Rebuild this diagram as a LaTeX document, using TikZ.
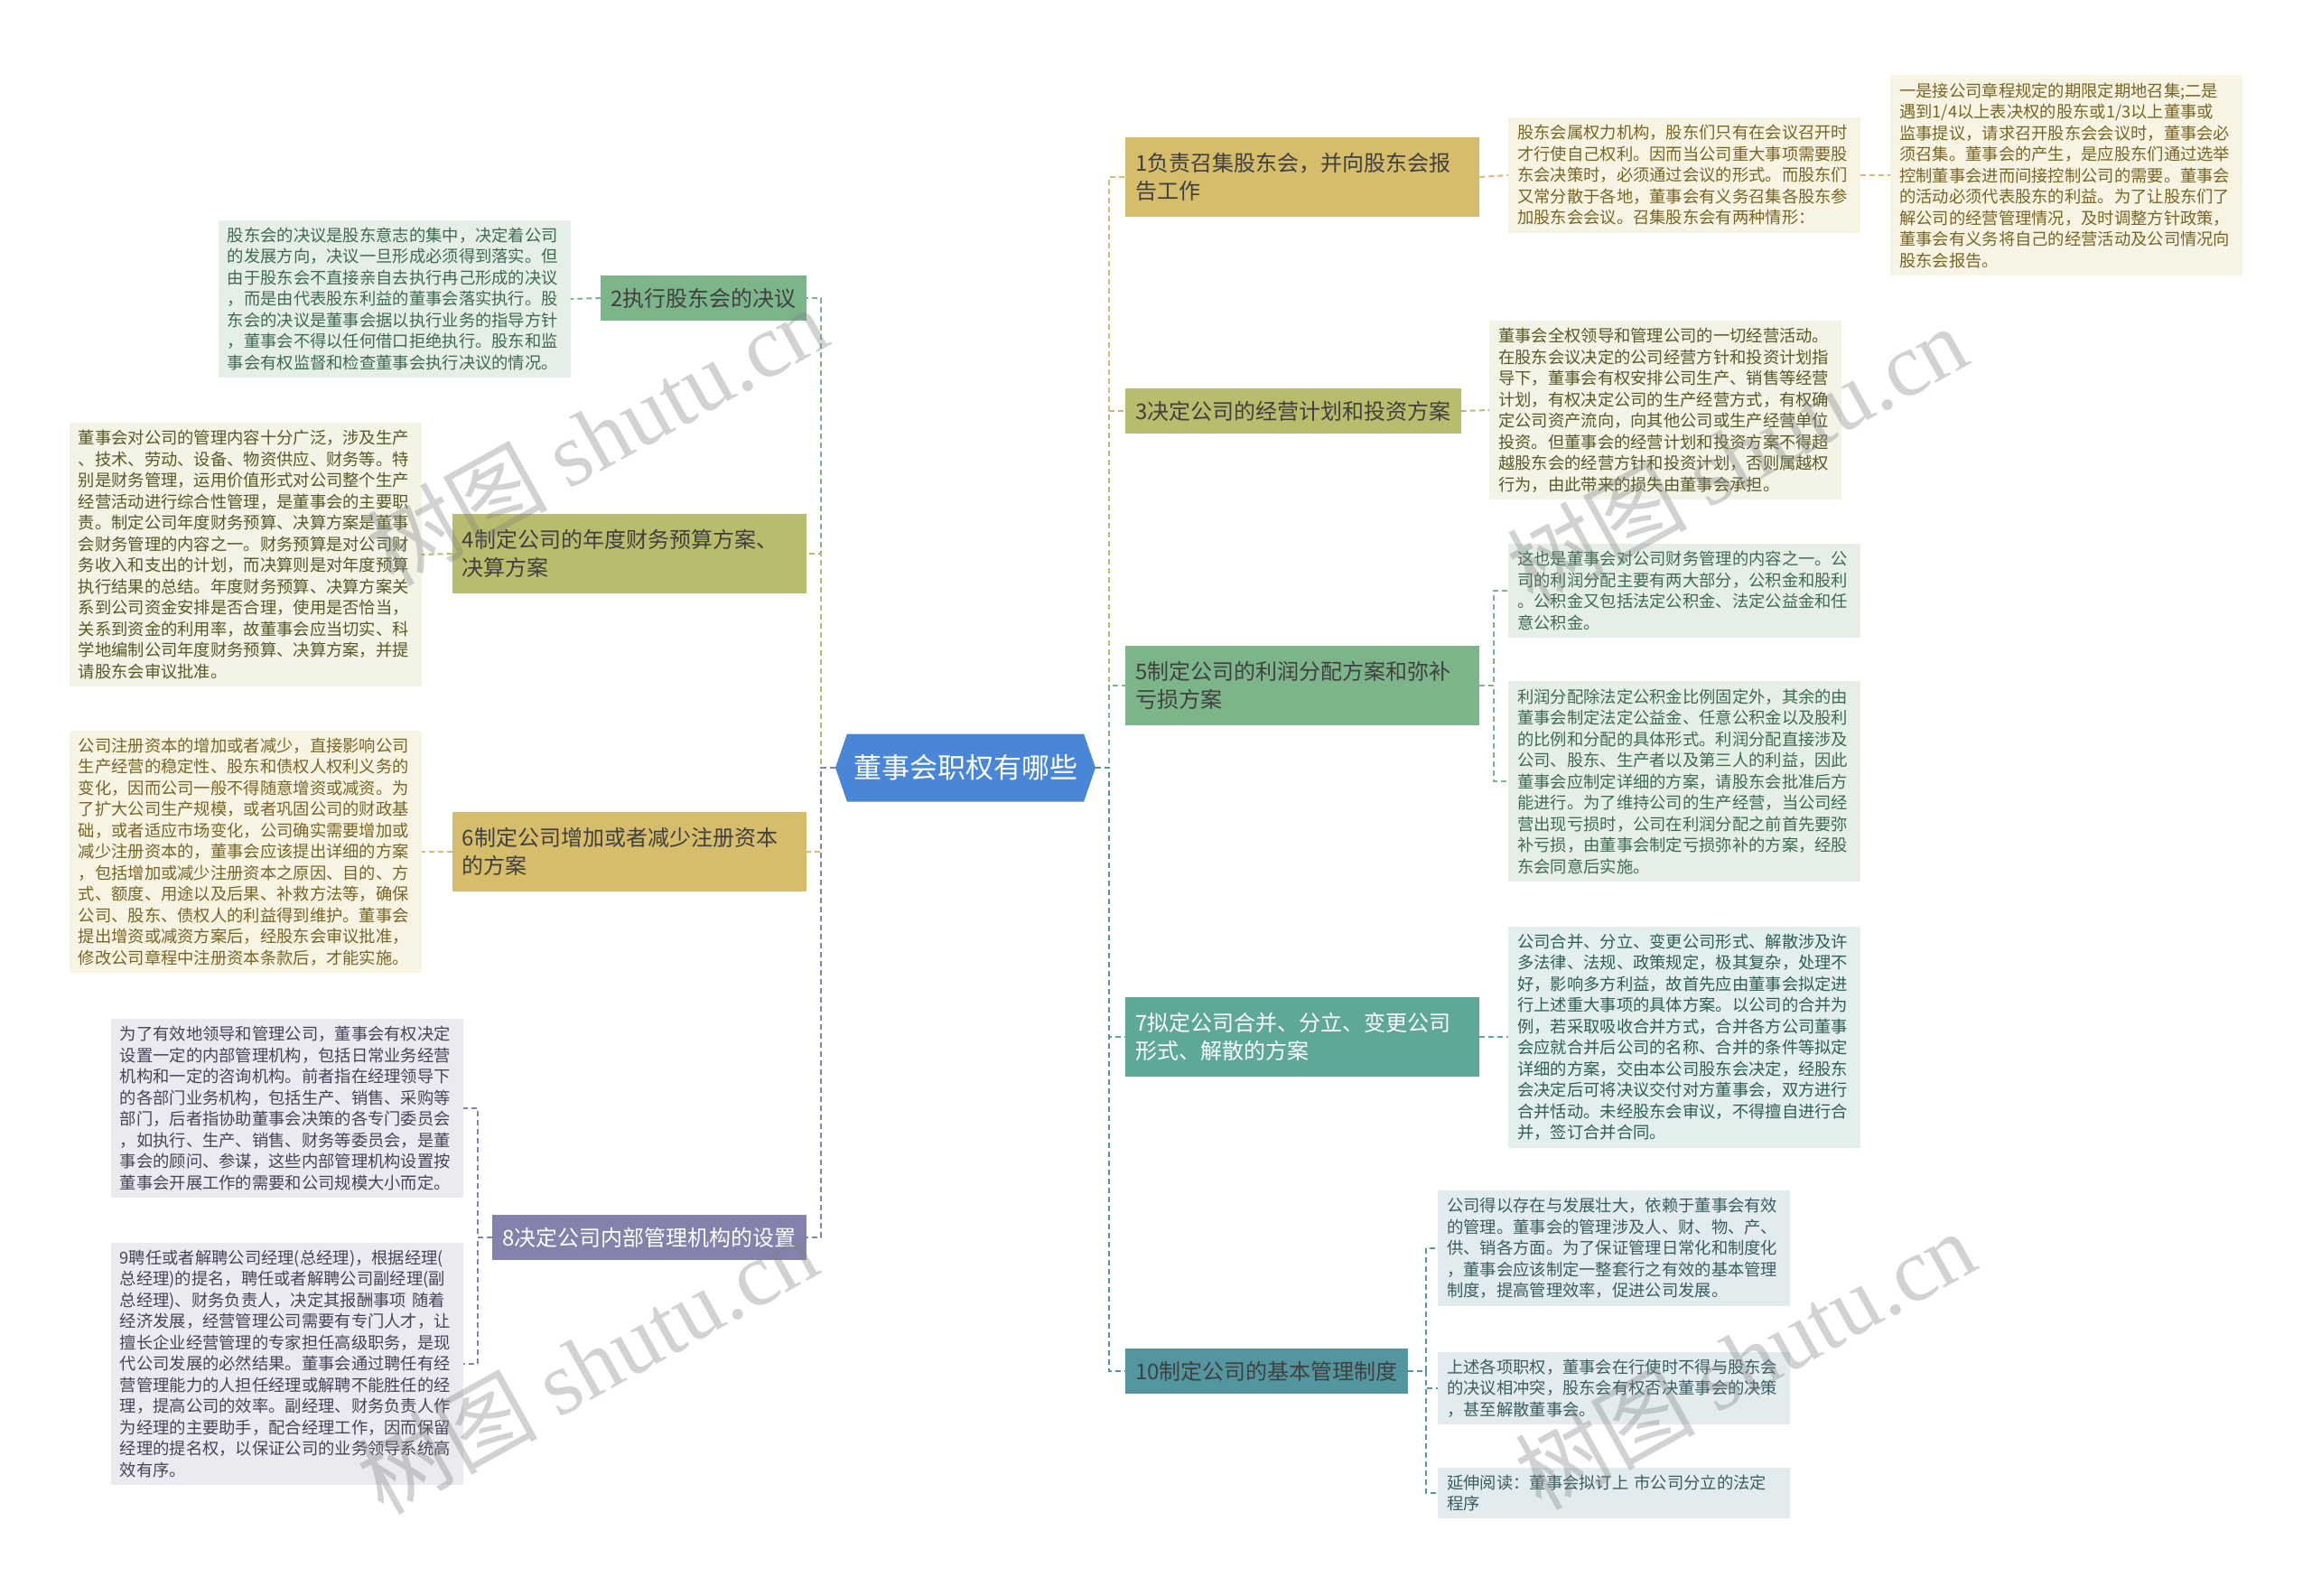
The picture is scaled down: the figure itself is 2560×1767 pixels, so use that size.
\documentclass[tikz,border=0pt]{standalone}
\usepackage{fontspec}
\setmainfont{Noto Sans CJK SC}
\newfontfamily\wmfont{Liberation Serif}
\usetikzlibrary{shapes.symbols}
\definecolor{cgold}{HTML}{D6BD6B}
\definecolor{colive}{HTML}{B8BC6C}
\definecolor{cgreen}{HTML}{7CB58A}
\definecolor{cteal}{HTML}{5EA89A}
\definecolor{ctealb}{HTML}{5496A0}
\definecolor{cpurple}{HTML}{8282AC}
\definecolor{cblue}{HTML}{4A86D8}
\definecolor{fgold}{HTML}{F7F4E3}
\definecolor{folive}{HTML}{F3F3E6}
\definecolor{fgreen}{HTML}{E5EFE7}
\definecolor{fteal}{HTML}{E3EFEC}
\definecolor{ftealb}{HTML}{E2ECEE}
\definecolor{fpurple}{HTML}{EAEAF0}
\definecolor{tgold}{HTML}{7A6424}
\definecolor{tolive}{HTML}{555A26}
\definecolor{tgreen}{HTML}{3E6B4C}
\definecolor{tteal}{HTML}{2F5E56}
\definecolor{ttealb}{HTML}{3A5C63}
\definecolor{tpurple}{HTML}{45455A}
\begin{document}
\begin{tikzpicture}[x=1pt,y=-1pt,
  link/.style={draw=#1, line width=2pt, dash pattern=on 6pt off 4pt},
  branch/.style={fill=#1, inner xsep=11pt, inner ysep=6pt, minimum height=50pt, align=left, font=\fontsize{24}{31}\selectfont},
  leaf/.style={fill=#1, inner xsep=10pt, inner ysep=8pt, text width=370pt, align=left, font=\fontsize{18.3}{23.5}\selectfont},
  wmark/.style={rotate=29, text=gray, text opacity=0.35, font=\fontsize{100}{100}\selectfont}]
\useasboundingbox (0,0) rectangle (2560,1767);
\fill[white] (0,0) rectangle (2560,1767);

\node[signal, signal to=west and east, signal pointer angle=142, fill=cblue, text=white, minimum width=288pt, minimum height=75pt, font=\fontsize{31}{31}\selectfont] (root) at (1069,850) {董事会职权有哪些};
\coordinate (lspine) at (909,850);
\coordinate (rspine) at (1228,850);

\node[branch=cgold, text width=370pt, minimum height=88pt, anchor=west, text=black!75] (b1) at (1246,196) {1负责召集股东会，并向股东会报\\告工作};
\node[branch=colive, anchor=west, text=black!75] (b3) at (1246,455) {3决定公司的经营计划和投资方案};
\node[branch=cgreen, text width=370pt, minimum height=88pt, anchor=west, text=black!75] (b5) at (1246,759) {5制定公司的利润分配方案和弥补\\亏损方案};
\node[branch=cteal, text width=370pt, minimum height=88pt, anchor=west, text=white] (b7) at (1246,1148) {7拟定公司合并、分立、变更公司\\形式、解散的方案};
\node[branch=ctealb, anchor=west, text=black!75] (b10) at (1246,1518) {10制定公司的基本管理制度};
\node[branch=cgreen, anchor=east, text=black!75] (b2) at (893,330) {2执行股东会的决议};
\node[branch=colive, text width=370pt, minimum height=88pt, anchor=east, text=black!75] (b4) at (893,613) {4制定公司的年度财务预算方案、\\决算方案};
\node[branch=cgold, text width=370pt, minimum height=88pt, anchor=east, text=black!75] (b6) at (893,943) {6制定公司增加或者减少注册资本\\的方案};
\node[branch=cpurple, anchor=east, text=white] (b8) at (893,1370) {8决定公司内部管理机构的设置};

\node[leaf=fgold, anchor=west, text=tgold] (l1a) at (1670,194) {股东会属权力机构，股东们只有在会议召开时\\才行使自己权利。因而当公司重大事项需要股\\东会决策时，必须通过会议的形式。而股东们\\又常分散于各地，董事会有义务召集各股东参\\加股东会会议。召集股东会有两种情形：};
\node[leaf=fgold, anchor=west, text=tgold] (l1b) at (2093,194) {一是接公司章程规定的期限定期地召集;二是\\遇到1/4以上表决权的股东或1/3以上董事或\\监事提议，请求召开股东会会议时，董事会必\\须召集。董事会的产生，是应股东们通过选举\\控制董事会进而间接控制公司的需要。董事会\\的活动必须代表股东的利益。为了让股东们了\\解公司的经营管理情况，及时调整方针政策，\\董事会有义务将自己的经营活动及公司情况向\\股东会报告。};
\node[leaf=folive, anchor=west, text=tolive] (l3) at (1649,454) {董事会全权领导和管理公司的一切经营活动。\\在股东会议决定的公司经营方针和投资计划指\\导下，董事会有权安排公司生产、销售等经营\\计划，有权决定公司的生产经营方式，有权确\\定公司资产流向，向其他公司或生产经营单位\\投资。但董事会的经营计划和投资方案不得超\\越股东会的经营方针和投资计划，否则属越权\\行为，由此带来的损失由董事会承担。};
\node[leaf=fgreen, anchor=west, text=tgreen] (l5a) at (1670,654) {这也是董事会对公司财务管理的内容之一。公\\司的利润分配主要有两大部分，公积金和股利\\。公积金又包括法定公积金、法定公益金和任\\意公积金。};
\node[leaf=fgreen, anchor=west, text=tgreen] (l5b) at (1670,865) {利润分配除法定公积金比例固定外，其余的由\\董事会制定法定公益金、任意公积金以及股利\\的比例和分配的具体形式。利润分配直接涉及\\公司、股东、生产者以及第三人的利益，因此\\董事会应制定详细的方案，请股东会批准后方\\能进行。为了维持公司的生产经营，当公司经\\营出现亏损时，公司在利润分配之前首先要弥\\补亏损，由董事会制定亏损弥补的方案，经股\\东会同意后实施。};
\node[leaf=fteal, anchor=west, text=tteal] (l7) at (1670,1148) {公司合并、分立、变更公司形式、解散涉及许\\多法律、法规、政策规定，极其复杂，处理不\\好，影响多方利益，故首先应由董事会拟定进\\行上述重大事项的具体方案。以公司的合并为\\例，若采取吸收合并方式，合并各方公司董事\\会应就合并后公司的名称、合并的条件等拟定\\详细的方案，交由本公司股东会决定，经股东\\会决定后可将决议交付对方董事会，双方进行\\合并恬动。未经股东会审议，不得擅自进行合\\并，签订合并合同。};
\node[leaf=ftealb, anchor=west, text=ttealb] (l10a) at (1592,1382) {公司得以存在与发展壮大，依赖于董事会有效\\的管理。董事会的管理涉及人、财、物、产、\\供、销各方面。为了保证管理日常化和制度化\\，董事会应该制定一整套行之有效的基本管理\\制度，提高管理效率，促进公司发展。};
\node[leaf=ftealb, anchor=west, text=ttealb] (l10b) at (1592,1537) {上述各项职权，董事会在行使时不得与股东会\\的决议相冲突，股东会有权否决董事会的决策\\，甚至解散董事会。};
\node[leaf=ftealb, anchor=west, text=ttealb] (l10c) at (1592,1653) {延伸阅读：董事会拟订上 市公司分立的法定\\程序};

\node[leaf=fgreen, anchor=east, text=tgreen] (l2) at (632,331) {股东会的决议是股东意志的集中，决定着公司\\的发展方向，决议一旦形成必须得到落实。但\\由于股东会不直接亲自去执行冉己形成的决议\\，而是由代表股东利益的董事会落实执行。股\\东会的决议是董事会据以执行业务的指导方针\\，董事会不得以任何借口拒绝执行。股东和监\\事会有权监督和检查董事会执行决议的情况。};
\node[leaf=folive, anchor=east, text=tolive] (l4) at (467,614) {董事会对公司的管理内容十分广泛，涉及生产\\、技术、劳动、设备、物资供应、财务等。特\\别是财务管理，运用价值形式对公司整个生产\\经营活动进行综合性管理，是董事会的主要职\\责。制定公司年度财务预算、决算方案是董事\\会财务管理的内容之一。财务预算是对公司财\\务收入和支出的计划，而决算则是对年度预算\\执行结果的总结。年度财务预算、决算方案关\\系到公司资金安排是否合理，使用是否恰当，\\关系到资金的利用率，故董事会应当切实、科\\学地编制公司年度财务预算、决算方案，并提\\请股东会审议批准。};
\node[leaf=fgold, anchor=east, text=tgold] (l6) at (467,943) {公司注册资本的增加或者减少，直接影响公司\\生产经营的稳定性、股东和债权人权利义务的\\变化，因而公司一般不得随意增资或减资。为\\了扩大公司生产规模，或者巩固公司的财政基\\础，或者适应市场变化，公司确实需要增加或\\减少注册资本的，董事会应该提出详细的方案\\，包括增加或减少注册资本之原因、目的、方\\式、额度、用途以及后果、补救方法等，确保\\公司、股东、债权人的利益得到维护。董事会\\提出增资或减资方案后，经股东会审议批准，\\修改公司章程中注册资本条款后，才能实施。};
\node[leaf=fpurple, anchor=east, text=tpurple] (l8a) at (513,1227) {为了有效地领导和管理公司，董事会有权决定\\设置一定的内部管理机构，包括日常业务经营\\机构和一定的咨询机构。前者指在经理领导下\\的各部门业务机构，包括生产、销售、采购等\\部门，后者指协助董事会决策的各专门委员会\\，如执行、生产、销售、财务等委员会，是董\\事会的顾问、参谋，这些内部管理机构设置按\\董事会开展工作的需要和公司规模大小而定。};
\node[leaf=fpurple, anchor=east, text=tpurple] (l8b) at (513,1510) {9聘任或者解聘公司经理(总经理)，根据经理(\\总经理)的提名，聘任或者解聘公司副经理(副\\总经理)、财务负责人，决定其报酬事项 随着\\经济发展，经营管理公司需要有专门人才，让\\擅长企业经营管理的专家担任高级职务，是现\\代公司发展的必然结果。董事会通过聘任有经\\营管理能力的人担任经理或解聘不能胜任的经\\理，提高公司的效率。副经理、财务负责人作\\为经理的主要助手，配合经理工作，因而保留\\经理的提名权，以保证公司的业务领导系统高\\效有序。};

\draw[link=cgreen] (root.west) -- (lspine) |- (b2.east);
\draw[link=colive] (root.west) -- (lspine) |- (b4.east);
\draw[link=cgold] (root.west) -- (lspine) |- (b6.east);
\draw[link=cpurple] (root.west) -- (lspine) |- (b8.east);
\draw[link=cgold] (root.east) -- (rspine) |- (b1.west);
\draw[link=colive] (root.east) -- (rspine) |- (b3.west);
\draw[link=cgreen] (root.east) -- (rspine) |- (b5.west);
\draw[link=cteal] (root.east) -- (rspine) |- (b7.west);
\draw[link=ctealb] (root.east) -- (rspine) |- (b10.west);

\draw[link=cgold] (b1.east) -- (l1a.west);
\draw[link=cgold] (l1a.east) -- (l1b.west);
\draw[link=colive] (b3.east) -- (l3.west);
\draw[link=cgreen] (b5.east) -- ++(16,0) |- (l5a.west);
\draw[link=cgreen] (b5.east) -- ++(16,0) |- (l5b.west);
\draw[link=cteal] (b7.east) -- (l7.west);
\draw[link=ctealb] (b10.east) -- ++(20,0) |- (l10a.west);
\draw[link=ctealb] (b10.east) -- ++(20,0) |- (l10b.west);
\draw[link=ctealb] (b10.east) -- ++(20,0) |- (l10c.west);
\draw[link=cgreen] (b2.west) -- (l2.east);
\draw[link=colive] (b4.west) -- (l4.east);
\draw[link=cgold] (b6.west) -- (l6.east);
\draw[link=cpurple] (b8.west) -- ++(-16,0) |- (l8a.east);
\draw[link=cpurple] (b8.west) -- ++(-16,0) |- (l8b.east);

\node[wmark] (wm1) at (661,482) {树图 {\wmfont shutu.cn}};
\node[wmark] (wm2) at (1923,503) {树图 {\wmfont shutu.cn}};
\node[wmark] (wm3) at (650,1510) {树图 {\wmfont shutu.cn}};
\node[wmark] (wm4) at (1932,1505) {树图 {\wmfont shutu.cn}};
\end{tikzpicture}
\end{document}
